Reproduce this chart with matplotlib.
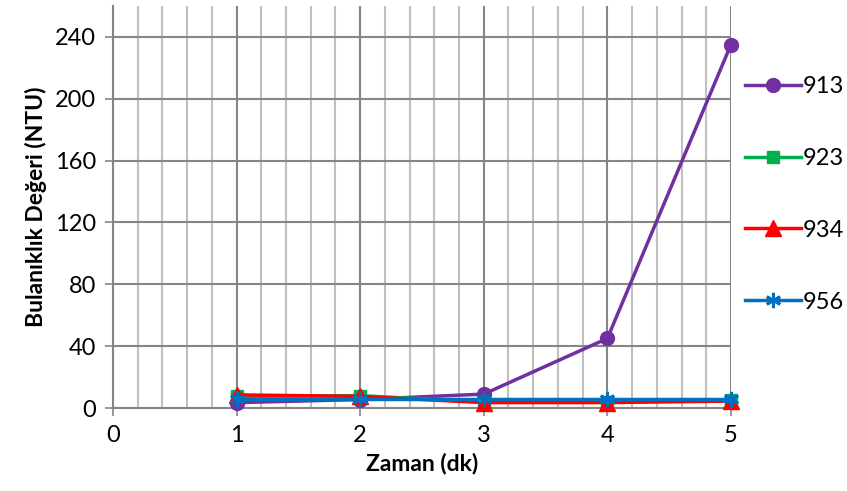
import matplotlib.pyplot as plt
from matplotlib.ticker import MultipleLocator

# ---------------------------
# Data
# ---------------------------
zaman = [1, 2, 3, 4, 5]
s913 = [3.5, 5.5, 9, 45, 235]
s923 = [7.5, 8, 4, 4, 5]
s934 = [8.5, 7.5, 3.5, 3.5, 4.5]
s956 = [6, 6, 6, 6, 6]

series = [
    ("913", s913, "#7030A0", "o", 10),
    ("923", s923, "#00B050", "s", 9),
    ("934", s934, "#FF0000", "^", 11),
    ("956", s956, "#0070C0", (6, 2, 0), 11),
]

plt.rcParams["font.family"] = ["Lato", "DejaVu Sans"]

fig = plt.figure(figsize=(8.47, 4.91), dpi=100)
ax = fig.add_axes([0.1334, 0.169, 0.863 - 0.1334, 0.988 - 0.169])

for name, vals, col, mk, ms in series:
    ax.plot(zaman, vals, color=col, marker=mk, markersize=ms, linewidth=2.5,
            markeredgewidth=2 if mk == (6, 2, 0) else 1, label=name,
            clip_on=False, zorder=3)

ax.set_xlim(0, 5)
ax.set_ylim(0, 260)
ax.xaxis.set_major_locator(MultipleLocator(1))
ax.xaxis.set_minor_locator(MultipleLocator(0.2))
ax.set_yticks([0, 40, 80, 120, 160, 200, 240])

ax.grid(True, which="major", color="#868686", linewidth=1.5, zorder=1)
ax.grid(True, which="minor", axis="x", color="#c0c0c0", linewidth=1.5, zorder=0)
ax.set_axisbelow(True)

for s in ["top", "right"]:
    ax.spines[s].set_visible(False)
for s in ["left", "bottom"]:
    ax.spines[s].set_color("#868686")
    ax.spines[s].set_linewidth(1.5)

ax.tick_params(which="major", direction="out", length=6, width=1.2, color="#868686",
               labelsize=17, pad=6)
ax.tick_params(which="minor", length=0)

ax.set_xlabel("Zaman (dk)", fontsize=16.5, fontweight="bold", labelpad=5)
ax.set_ylabel("Bulanıklık Değeri (NTU)", fontsize=16.5, fontweight="bold", labelpad=6)

fig.legend(loc="upper left", bbox_to_anchor=(0.869, 0.864), frameon=False,
           fontsize=17, labelspacing=2.15, handlelength=2.33, handletextpad=0.1,
           borderaxespad=0)

fig.savefig("out.png", dpi=100)
